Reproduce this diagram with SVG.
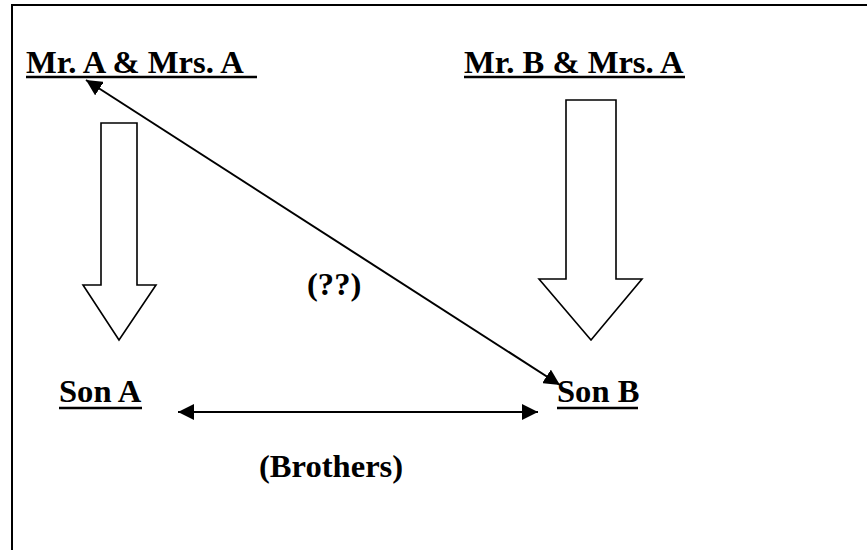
<svg xmlns="http://www.w3.org/2000/svg" width="867" height="550" viewBox="0 0 867 550">
<style>
.lbl{font-family:"Liberation Serif","Times New Roman",serif;font-weight:bold;font-size:32.6px;fill:#000}
.ul{stroke:#000;stroke-width:2.6}
.blk{fill:#fff;stroke:#000;stroke-width:1.6;stroke-linejoin:miter}
.con{stroke:#000;stroke-width:2;fill:none}
</style>
<defs>
<marker id="ah" markerUnits="userSpaceOnUse" markerWidth="18" markerHeight="16" refX="16" refY="8" orient="auto-start-reverse">
<path d="M0,0 L16,8 L0,16 Z" fill="#000"/>
</marker>
</defs>
<rect width="867" height="550" fill="#fff"/>
<g id="frame">
<line x1="12" y1="5" x2="867" y2="5" stroke="#000" stroke-width="2"/>
<line x1="12" y1="4" x2="12" y2="550" stroke="#000" stroke-width="2"/>
</g>
<g id="parentsA">
<text class="lbl" x="26" y="73" xml:space="preserve">Mr. A &amp; Mrs. A </text>
<line class="ul" x1="26" y1="77" x2="257" y2="77"/>
</g>
<g id="parentsB">
<text class="lbl" x="464" y="73">Mr. B &amp; Mrs. A</text>
<line class="ul" x1="464" y1="77" x2="685" y2="77"/>
</g>
<g id="sonA">
<text class="lbl" x="59" y="402">Son A</text>
<line class="ul" x1="59" y1="408" x2="142" y2="408"/>
</g>
<g id="sonB">
<text class="lbl" x="557" y="402">Son B</text>
<line class="ul" x1="557" y1="408" x2="638" y2="408"/>
</g>
<g id="arrowA">
<path class="blk" d="M101,123 H137 V285 H156 L119,340 L83,285 H101 Z"/>
</g>
<g id="arrowB">
<path class="blk" d="M566,100 H616 V279 H642 L591,340 L539,279 H566 Z"/>
</g>
<g id="connectors">
<line class="con" x1="86" y1="80" x2="560" y2="385" marker-start="url(#ah)" marker-end="url(#ah)"/>
<line class="con" x1="178" y1="412" x2="538" y2="412" marker-start="url(#ah)" marker-end="url(#ah)"/>
</g>
<g id="labels">
<text class="lbl" x="307" y="295">(??)</text>
<text class="lbl" x="259" y="477">(Brothers)</text>
</g>
</svg>
